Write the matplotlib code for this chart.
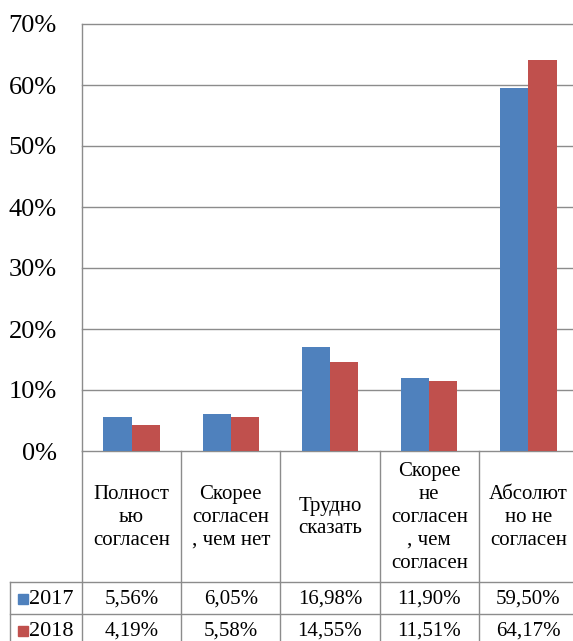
import matplotlib
matplotlib.use("Agg")
import matplotlib.pyplot as plt
import numpy as np

categories = ["Полност\nью\nсогласен", "Скорее\nсогласен\n, чем нет", "Трудно\nсказать",
              "Скорее\nне\nсогласен\n, чем\nсогласен", "Абсолют\nно не\nсогласен"]
series_names = ["2017", "2018"]
values_2017 = [5.56, 6.05, 16.98, 11.90, 59.50]
values_2018 = [4.19, 5.58, 14.55, 11.51, 64.17]
labels_2017 = ["5,56%", "6,05%", "16,98%", "11,90%", "59,50%"]
labels_2018 = ["4,19%", "5,58%", "14,55%", "11,51%", "64,17%"]
ytick_values = [0, 10, 20, 30, 40, 50, 60, 70]
ytick_labels = ["0%", "10%", "20%", "30%", "40%", "50%", "60%", "70%"]

colors = ["#4F81BD", "#C0504D"]
grid_c = "#8C8C8C"
plt.rcParams['font.family'] = ['Liberation Serif', 'DejaVu Serif']

W, H = 573, 641
fig = plt.figure(figsize=(W / 100, H / 100), dpi=100)

left_px, right_px, top_px, zero_px = 82, 578, 24, 451
ax = fig.add_axes([left_px / W, 1 - zero_px / H, (right_px - left_px) / W, (zero_px - top_px) / H])
x = np.arange(len(categories))
bw = 0.285
ax.bar(x - bw / 2, values_2017, bw, color=colors[0], zorder=3)
ax.bar(x + bw / 2, values_2018, bw, color=colors[1], zorder=3)
ax.set_xlim(-0.5, 4.5)
ax.set_ylim(0, 70)
ax.set_yticks(ytick_values)
ax.set_yticklabels(ytick_labels, fontsize=19)
ax.tick_params(axis='y', length=0, pad=18)
ax.set_xticks([])
for v in ytick_values:
    ax.axhline(v, color=grid_c, lw=1.0, zorder=1, clip_on=False)
for s in ["top", "right", "bottom"]:
    ax.spines[s].set_visible(False)
ax.spines["left"].set_color(grid_c)
ax.spines["left"].set_linewidth(1.0)

# table axes
col_w = (right_px - left_px) / 5.0
tab_left_px = 10
xl = -0.5 - (left_px - tab_left_px) / col_w
bottom_px = 646
tab = fig.add_axes([tab_left_px / W, 1 - bottom_px / H, (right_px - tab_left_px) / W, (bottom_px - zero_px) / H])
tab.set_xlim(xl, 4.5)
tab.set_ylim(bottom_px, zero_px)
tab.axis("off")

row1, row2 = 582, 614
lk = dict(color=grid_c, lw=1.0, clip_on=False)
for i in range(len(categories)):
    tab.plot([i - 0.5, i - 0.5], [zero_px, bottom_px], **lk)
tab.plot([xl, xl], [row1, bottom_px], **lk)
tab.plot([xl, 4.5], [row1, row1], **lk)
tab.plot([xl, 4.5], [row2, row2], **lk)

fs = 15
for i, c in enumerate(categories):
    tab.text(i, (zero_px + row1) / 2 + 1, c, ha="center", va="center", fontsize=fs, linespacing=1.27)
    tab.text(i, (row1 + row2) / 2 + 1, labels_2017[i], ha="center", va="center", fontsize=fs)
    tab.text(i, (row2 + bottom_px) / 2 + 1, labels_2018[i], ha="center", va="center", fontsize=fs)

sq_x = xl + 13 / col_w
txt_x = xl + 19 / col_w
for name, col, yc in zip(series_names, colors, [(row1 + row2) / 2, (row2 + bottom_px) / 2]):
    tab.plot([sq_x], [yc + 1], marker="s", ms=7, color=col, clip_on=False)
    tab.text(txt_x, yc + 1, name, ha="left", va="center", fontsize=16)

fig.savefig("out.png", dpi=100)
